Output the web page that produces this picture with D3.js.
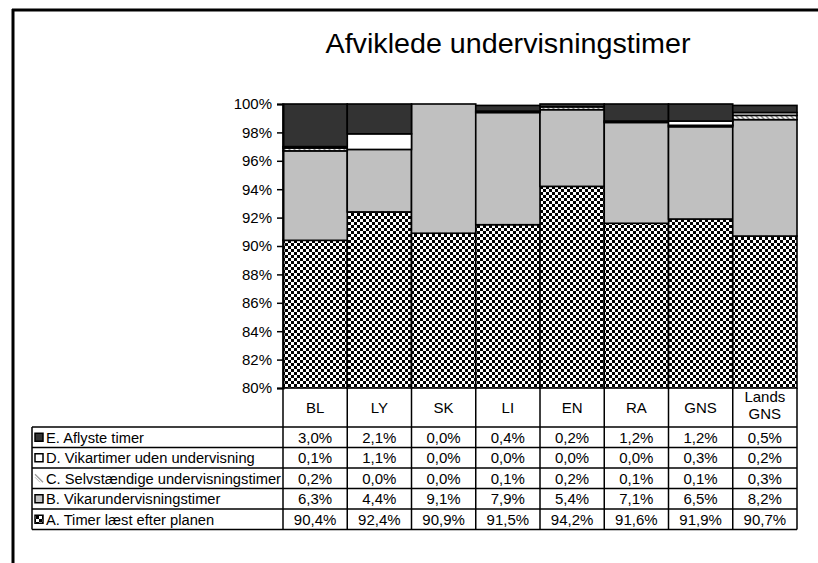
<!DOCTYPE html>
<html>
<head>
<meta charset="utf-8">
<script src="https://cdn.jsdelivr.net/npm/d3@7"></script>
<style>
  body { margin: 0; background: #fff; }
  svg { display: block; font-family: "Liberation Sans", Arial, sans-serif; }
</style>
</head>
<body>
<svg id="chart" width="818" height="563"></svg>
<script>
// categories (header of the table)
const categories = ["BL", "LY", "SK", "LI", "EN", "RA", "GNS", "Lands GNS"];

// series, listed in table order (top row first); stacked from A upwards
const seriesNames = [
    "E. Aflyste timer",
    "D. Vikartimer uden undervisning",
    "C. Selvstændige undervisningstimer",
    "B. Vikarundervisningstimer",
    "A. Timer læst efter planen"
];
const valuesE = [3.0, 2.1, 0.0, 0.4, 0.2, 1.2, 1.2, 0.5];
const valuesD = [0.1, 1.1, 0.0, 0.0, 0.0, 0.0, 0.3, 0.2];
const valuesC = [0.2, 0.0, 0.0, 0.1, 0.2, 0.1, 0.1, 0.3];
const valuesB = [6.3, 4.4, 9.1, 7.9, 5.4, 7.1, 6.5, 8.2];
const valuesA = [90.4, 92.4, 90.9, 91.5, 94.2, 91.6, 91.9, 90.7];

const yTicks = [80, 82, 84, 86, 88, 90, 92, 94, 96, 98, 100];

const svg = d3.select("#chart");
const defs = svg.append("defs");

// checkerboard for A
let pA = defs.append("pattern").attr("id", "patA").attr("patternUnits", "userSpaceOnUse")
    .attr("width", 6).attr("height", 6);
pA.append("rect").attr("width", 6).attr("height", 6).attr("fill", "#fff");
pA.append("rect").attr("width", 3).attr("height", 3).attr("fill", "#000");
pA.append("rect").attr("x", 3).attr("y", 3).attr("width", 3).attr("height", 3).attr("fill", "#000");

// diagonal hatch for C
let pC = defs.append("pattern").attr("id", "patC").attr("patternUnits", "userSpaceOnUse")
    .attr("width", 5).attr("height", 5);
pC.append("rect").attr("width", 5).attr("height", 5).attr("fill", "#fff");
pC.append("path").attr("d", "M0,0 L5,5 M-1,4 L1,6 M4,-1 L6,1").attr("stroke", "#888").attr("stroke-width", 1.5);

const fills = {
    "E": "#333333",
    "D": "#ffffff",
    "C": "url(#patC)",
    "B": "#c0c0c0",
    "A": "url(#patA)"
};

// frame
svg.append("line").attr("x1", 12).attr("x2", 818).attr("y1", 10).attr("y2", 10)
    .attr("stroke", "#000").attr("stroke-width", 3);
svg.append("line").attr("x1", 13).attr("x2", 13).attr("y1", 9).attr("y2", 563)
    .attr("stroke", "#000").attr("stroke-width", 3);

// title
svg.append("text").attr("x", 508).attr("y", 53).attr("text-anchor", "middle")
    .attr("font-size", 27).attr("textLength", 365).attr("lengthAdjust", "spacingAndGlyphs")
    .text("Afviklede undervisningstimer");

const x = d3.scaleBand().domain(categories).range([283, 797]).padding(0);
const y = d3.scaleLinear().domain([80, 100]).range([388, 104]);

// stack data
const stackRows = categories.map((c, i) => ({
    cat: c, A: valuesA[i], B: valuesB[i], C: valuesC[i], D: valuesD[i], E: valuesE[i]
}));
const stack = d3.stack().keys(["A", "B", "C", "D", "E"]);
const layers = stack(stackRows);

const clampY = v => y(Math.max(80, Math.min(100, v)));

const gBars = svg.append("g");
layers.forEach(layer => {
    gBars.selectAll(null).data(layer).join("rect")
        .attr("x", d => x(d.data.cat))
        .attr("width", x.bandwidth())
        .attr("y", d => clampY(d[1]))
        .attr("height", d => Math.max(0, clampY(d[0]) - clampY(d[1])))
        .attr("fill", fills[layer.key])
        .attr("stroke", "#000")
        .attr("stroke-width", d => (d[1] - d[0]) > 0 ? 1.6 : 0);
});

// y axis
const yAxis = d3.axisLeft(y).tickValues(yTicks).tickSize(6).tickPadding(5)
    .tickFormat(d => d + "%");
const gy = svg.append("g").attr("transform", "translate(283,0)").call(yAxis);
gy.select(".domain").attr("stroke-width", 2);
gy.selectAll(".tick line").attr("stroke-width", 1.5);
gy.selectAll(".tick text").attr("font-size", 15).attr("fill", "#000")
    .attr("font-family", "Liberation Sans, Arial, sans-serif");

// data table
const headerTop = 388, headerBottom = 427, rowH = 20.5;
const tableLeft = 32, tableRight = 797;
const rowsValues = [valuesE, valuesD, valuesC, valuesB, valuesA];
const rowKeys = ["E", "D", "C", "B", "A"];
const fmt = v => v.toFixed(1).replace(".", ",") + "%";

const gT = svg.append("g");

// header labels
categories.forEach(c => {
    const cx = x(c) + x.bandwidth() / 2;
    if (c === "Lands GNS") {
        gT.append("text").attr("x", cx).attr("y", 402).attr("text-anchor", "middle")
            .attr("font-size", 15).text("Lands");
        gT.append("text").attr("x", cx).attr("y", 419).attr("text-anchor", "middle")
            .attr("font-size", 15).text("GNS");
    } else {
        gT.append("text").attr("x", cx).attr("y", 413).attr("text-anchor", "middle")
            .attr("font-size", 15).text(c);
    }
});

// row texts and values
rowKeys.forEach((k, r) => {
    const top = headerBottom + r * rowH;
    const mid = top + rowH / 2 + 5.5;
    // legend key
    const kx = 35, ky = top + rowH / 2 - 4;
    if (k === "C") {
        gT.append("path").attr("d", `M${kx},${ky} L${kx + 8},${ky + 8}`)
            .attr("stroke", "#999").attr("stroke-width", 1.2);
        gT.append("path").attr("d", `M${kx},${ky + 3} L${kx + 5},${ky + 8}`)
            .attr("stroke", "#bbb").attr("stroke-width", 1);
    } else {
        gT.append("rect").attr("x", kx).attr("y", ky).attr("width", 8).attr("height", 8)
            .attr("fill", fills[k]).attr("stroke", "#000").attr("stroke-width", 1.5);
    }
    const label = gT.append("text").attr("x", 46).attr("y", mid).attr("font-size", 14.7)
        .text(seriesNames[r]);
    if (k === "C") label.attr("textLength", 235).attr("lengthAdjust", "spacingAndGlyphs");
    rowsValues[r].forEach((v, i) => {
        gT.append("text").attr("x", x(categories[i]) + x.bandwidth() / 2).attr("y", mid)
            .attr("text-anchor", "middle").attr("font-size", 15).text(fmt(v));
    });
});

// grid lines
const tableBottom = headerBottom + rowKeys.length * rowH;
for (let r = 0; r <= rowKeys.length; r++) {
    const yy = headerBottom + r * rowH;
    gT.append("line").attr("x1", tableLeft).attr("x2", tableRight).attr("y1", yy).attr("y2", yy)
        .attr("stroke", "#000").attr("stroke-width", 1.5);
}
gT.append("line").attr("x1", tableLeft).attr("x2", tableLeft).attr("y1", headerBottom).attr("y2", tableBottom)
    .attr("stroke", "#000").attr("stroke-width", 1.5);
categories.concat(["end"]).forEach((c, i) => {
    const xx = i < categories.length ? x(c) : x.range()[1];
    gT.append("line").attr("x1", xx).attr("x2", xx).attr("y1", headerTop).attr("y2", tableBottom)
        .attr("stroke", "#000").attr("stroke-width", 1.5);
});
</script>
</body>
</html>
